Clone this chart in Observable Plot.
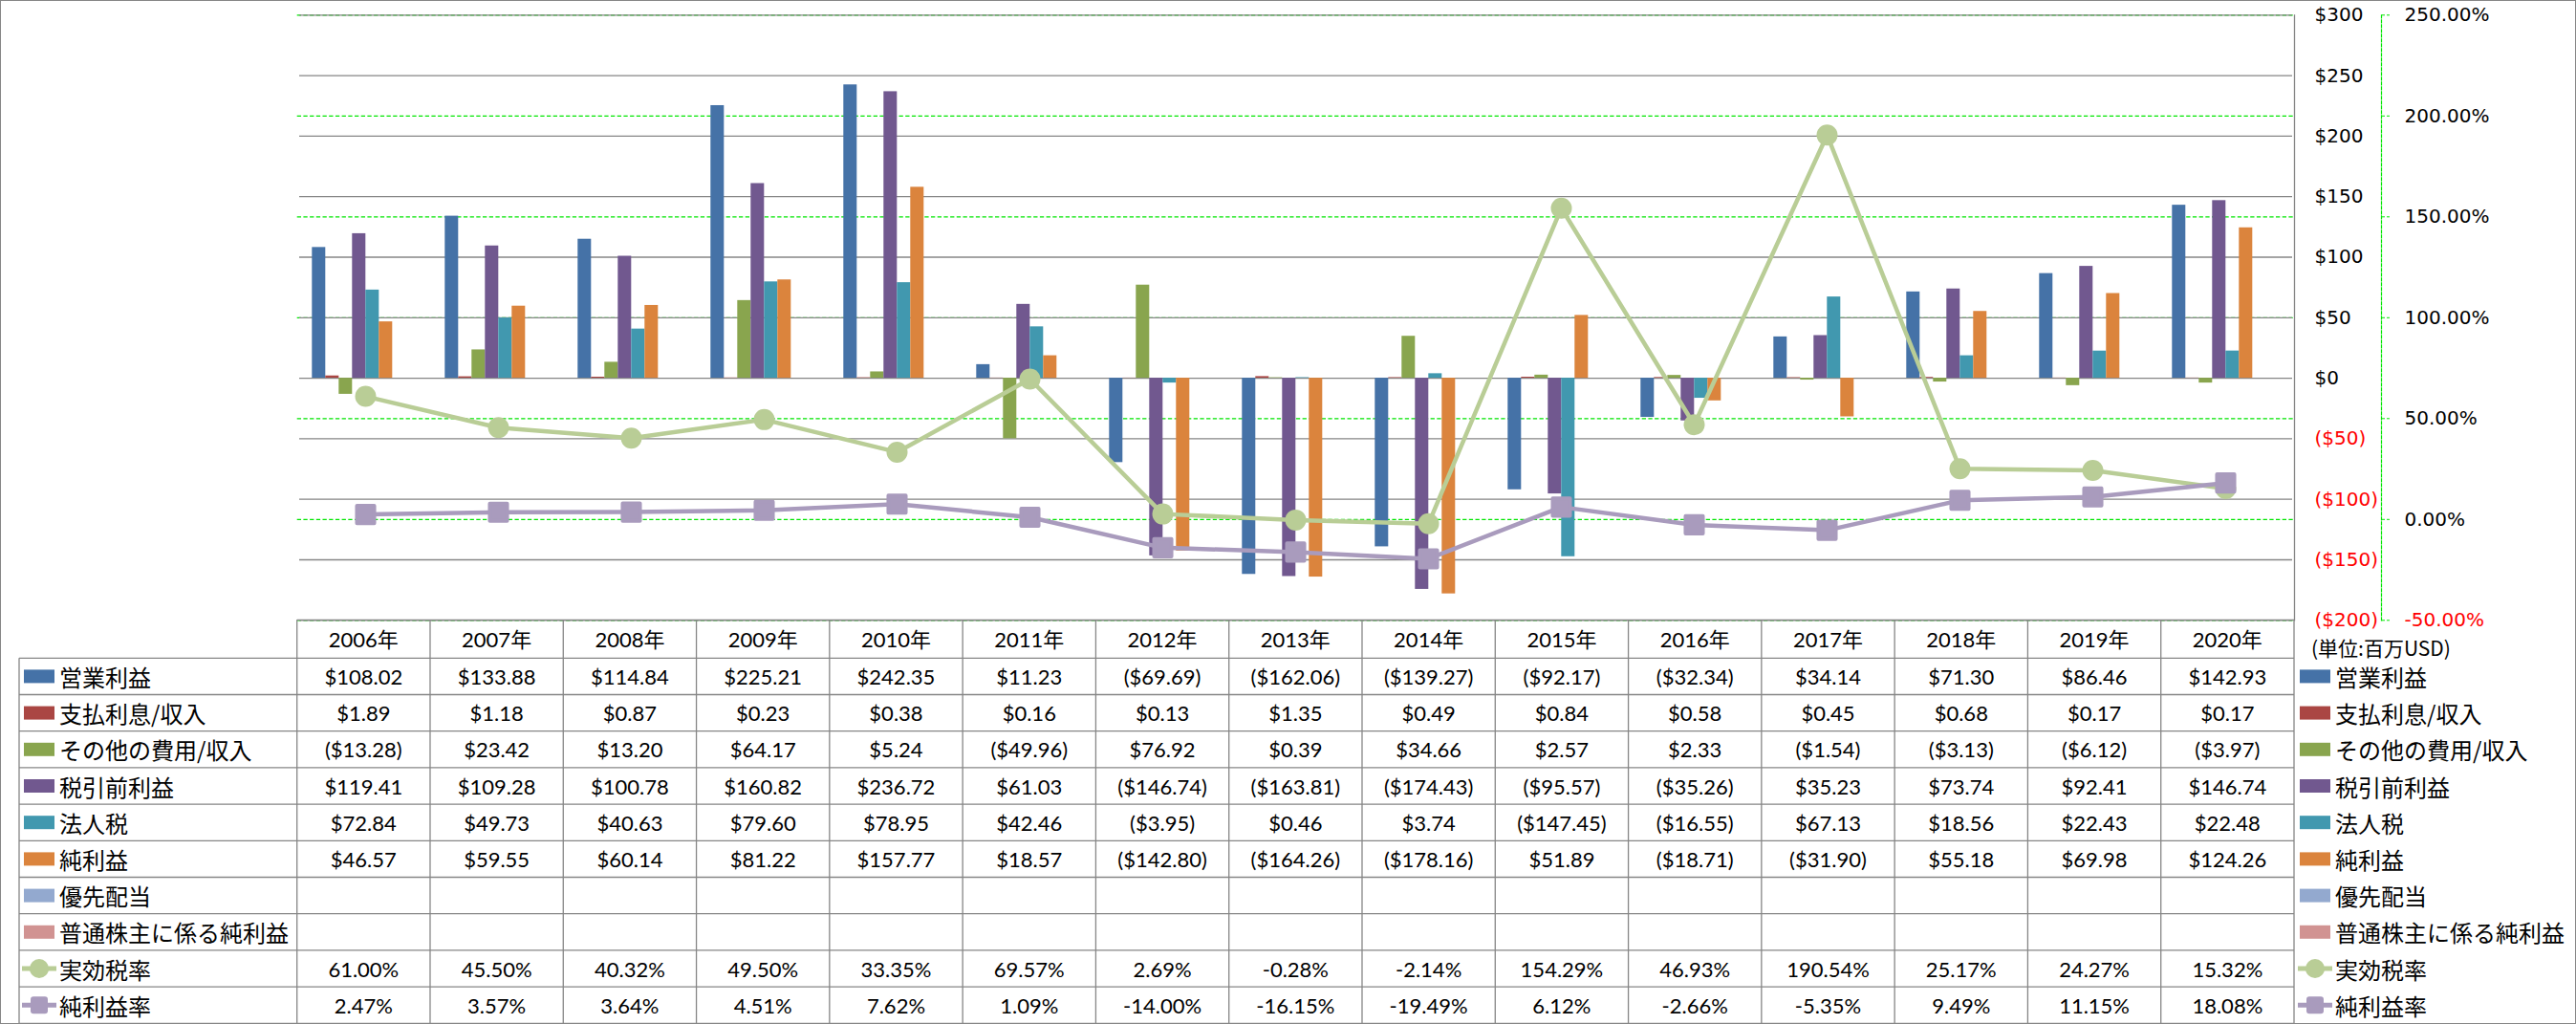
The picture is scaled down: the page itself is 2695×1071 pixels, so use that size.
<!DOCTYPE html>
<html>
<head>
<meta charset="utf-8">
<script src="https://cdn.jsdelivr.net/npm/d3@7"></script>
<script src="https://cdn.jsdelivr.net/npm/@observablehq/plot@0.6"></script>
<style>
html, body { margin: 0; padding: 0; background: #fff; }
#wrap { position: relative; width: 2695px; height: 1071px; overflow: hidden; background: #fff; }
#frameBorder { position: absolute; left: 0; top: 0; width: 2695px; height: 1071px; box-sizing: border-box; border: 1.5px solid #868686; pointer-events: none; }
</style>
</head>
<body>
<div id="wrap"></div>
<script>
// ---------------- data ----------------
const years = ["2006","2007","2008","2009","2010","2011","2012","2013","2014","2015","2016","2017","2018","2019","2020"];
const seriesNames = ["営業利益","支払利息/収入","その他の費用/収入","税引前利益","法人税","純利益","優先配当","普通株主に係る純利益","実効税率","純利益率"];
const operatingIncome   = [108.02, 133.88, 114.84, 225.21, 242.35, 11.23, -69.69, -162.06, -139.27, -92.17, -32.34, 34.14, 71.30, 86.46, 142.93];
const interestExpense   = [1.89, 1.18, 0.87, 0.23, 0.38, 0.16, 0.13, 1.35, 0.49, 0.84, 0.58, 0.45, 0.68, 0.17, 0.17];
const otherExpense      = [-13.28, 23.42, 13.20, 64.17, 5.24, -49.96, 76.92, 0.39, 34.66, 2.57, 2.33, -1.54, -3.13, -6.12, -3.97];
const pretaxIncome      = [119.41, 109.28, 100.78, 160.82, 236.72, 61.03, -146.74, -163.81, -174.43, -95.57, -35.26, 35.23, 73.74, 92.41, 146.74];
const incomeTax         = [72.84, 49.73, 40.63, 79.60, 78.95, 42.46, -3.95, 0.46, 3.74, -147.45, -16.55, 67.13, 18.56, 22.43, 22.48];
const netIncome         = [46.57, 59.55, 60.14, 81.22, 157.77, 18.57, -142.80, -164.26, -178.16, 51.89, -18.71, -31.90, 55.18, 69.98, 124.26];
const preferredDividends = [];
const netIncomeToCommon  = [];
const effectiveTaxRate  = [61.00, 45.50, 40.32, 49.50, 33.35, 69.57, 2.69, -0.28, -2.14, 154.29, 46.93, 190.54, 25.17, 24.27, 15.32];
const netMargin         = [2.47, 3.57, 3.64, 4.51, 7.62, 1.09, -14.00, -16.15, -19.49, 6.12, -2.66, -5.35, 9.49, 11.15, 18.08];
const dollarTicks = [-200, -150, -100, -50, 0, 50, 100, 150, 200, 250, 300];
const pctTicks = [-50, 0, 50, 100, 150, 200, 250];
const seriesColors = ["#4572A7","#AA4643","#89A54E","#71588F","#4198AF","#DB843D","#93A9CF","#D19392","#B9CD96","#A99BBD"];
const unitLabel = "(単位:百万USD)";

// ---------------- layout ----------------
const W = 2695, H = 1071;
const ML = 310.7, MR = 295, MT = 15.3, PB = 648.3, PH = 650;
const PCT_AXIS_X = 2491;
const HEADER_H = 40, ROW_H = 38.2;
const TABLE_LEFT = 20;
const GRID = "#868686";
const GREEN = "#00e600";

const barSeries = seriesNames.slice(0, 8);
const barValues = [operatingIncome, interestExpense, otherExpense, pretaxIncome, incomeTax, netIncome, preferredDividends, netIncomeToCommon];
const barData = [];
barValues.forEach((arr, s) => years.forEach((y, i) => {
  const v = arr[i];
  if (v != null) barData.push({year: y, series: barSeries[s], value: v});
}));
const lineData = years.map((y, i) => ({year: y, tax: effectiveTaxRate[i], margin: netMargin[i]}));

const fmtDollar = v => v < 0 ? `($${(-v).toFixed(2)})` : `$${v.toFixed(2)}`;
const fmtAxisDollar = v => v < 0 ? `($${-v})` : `$${v}`;
const fmtPct = v => `${v.toFixed(2)}%`;

const layerStyle = {
  position: "absolute", left: "0px", top: "0px",
  background: "transparent", overflow: "visible",
  fontFamily: "'DejaVu Sans', sans-serif", fontSize: "20px", color: "#000"
};
const common = {width: W, height: PH, marginLeft: ML, marginRight: MR, marginTop: MT, marginBottom: PH - PB, style: layerStyle};
const wrap = document.getElementById("wrap");

// Layer 1: percentage gridlines (green dashed) + plot right border
const layer1 = Plot.plot({
  ...common,
  y: {domain: [-50, 250], axis: null},
  marks: [
    Plot.ruleY(pctTicks, {stroke: GREEN, strokeWidth: 1.3, strokeDasharray: "4.3,2.4"}),
    Plot.frame({anchor: "right", stroke: GRID, strokeWidth: 1.3})
  ]
});
wrap.appendChild(layer1);

// Layer 2: dollar gridlines, grouped bars, dollar axis
const layer2 = Plot.plot({
  ...common,
  fx: {domain: years, padding: 0, axis: null},
  x: {domain: barSeries, paddingInner: 0, paddingOuter: 0.7, axis: null},
  y: {domain: [-200, 300], axis: null},
  color: {domain: seriesNames, range: seriesColors},
  marks: [
    Plot.ruleY(dollarTicks, {stroke: GRID, strokeWidth: 1.3}),
    Plot.barY(barData, {fx: "year", x: "series", y1: 0, y2: "value", fill: "series", insetLeft: 0, insetRight: 0}),
    Plot.axisY({ticks: dollarTicks.filter(d => d >= 0), anchor: "right", label: null, tickSize: 0, tickPadding: 23, tickFormat: fmtAxisDollar, fill: "#000"}),
    Plot.axisY({ticks: dollarTicks.filter(d => d < 0), anchor: "right", label: null, tickSize: 0, tickPadding: 23, tickFormat: fmtAxisDollar, fill: "#ff0000"})
  ]
});
wrap.appendChild(layer2);

// Layer 3: rate lines with markers
const layer3 = Plot.plot({
  ...common,
  x: {type: "point", domain: years, padding: 0.5, axis: null},
  y: {domain: [-50, 250], axis: null},
  marks: [
    Plot.line(lineData, {x: "year", y: "tax", stroke: seriesColors[8], strokeWidth: 4.5}),
    Plot.dot(lineData, {x: "year", y: "tax", r: 11, fill: seriesColors[8], symbol: "circle"}),
    Plot.line(lineData, {x: "year", y: "margin", stroke: seriesColors[9], strokeWidth: 4.5}),
    Plot.dot(lineData, {x: "year", y: "margin", r: 10.2, symbol: "square", fill: seriesColors[9], stroke: seriesColors[9], strokeWidth: 4, strokeLinejoin: "round"})
  ]
});
wrap.appendChild(layer3);

// Layer 4: percentage axis
const layer4 = Plot.plot({
  ...common,
  marginRight: W - PCT_AXIS_X,
  y: {domain: [-50, 250], axis: null},
  marks: [
    Plot.frame({anchor: "right", stroke: GREEN, strokeWidth: 1.2, strokeDasharray: "3,2"}),
    Plot.axisY({ticks: pctTicks.filter(d => d >= 0), anchor: "right", label: null, tickSize: 9, tickPadding: 15, tickFormat: fmtPct, stroke: GREEN, strokeDasharray: "3,2", fill: "#000"}),
    Plot.axisY({ticks: pctTicks.filter(d => d < 0), anchor: "right", label: null, tickSize: 9, tickPadding: 15, tickFormat: fmtPct, stroke: GREEN, strokeDasharray: "3,2", fill: "#ff0000"})
  ]
});
wrap.appendChild(layer4);

// ---------------- data table + legend ----------------
const col = d3.scaleBand(years, [ML, W - MR]);
const bw = col.bandwidth();
const tableTop = PB;
const rowsTop = tableTop + HEADER_H;
const rowY = i => rowsTop + ROW_H * i;
const tableBottom = rowY(seriesNames.length);
const tableRight = W - MR;

const tsvg = d3.create("svg")
  .attr("width", W).attr("height", H)
  .style("position", "absolute").style("left", "0px").style("top", "0px")
  .style("overflow", "visible");

const lines = tsvg.append("g").attr("stroke", GRID).attr("stroke-width", 1.3).attr("fill", "none");
lines.append("line").attr("x1", ML).attr("x2", tableRight).attr("y1", tableTop).attr("y2", tableTop);
for (let k = 0; k <= seriesNames.length; k++) {
  lines.append("line").attr("x1", TABLE_LEFT).attr("x2", tableRight).attr("y1", rowY(k)).attr("y2", rowY(k));
}
lines.append("line").attr("x1", TABLE_LEFT).attr("x2", TABLE_LEFT).attr("y1", rowsTop).attr("y2", tableBottom);
years.forEach(y => {
  lines.append("line").attr("x1", col(y)).attr("x2", col(y)).attr("y1", tableTop).attr("y2", tableBottom);
});
lines.append("line").attr("x1", tableRight).attr("x2", tableRight).attr("y1", tableTop).attr("y2", tableBottom);

const valueFont = "Lato, 'Noto Sans CJK JP', sans-serif";
const labelFont = "'Noto Sans CJK JP', sans-serif";

// header years
tsvg.append("g").selectAll("text").data(years).join("text")
  .attr("x", d => col(d) + bw / 2).attr("y", tableTop + HEADER_H / 2)
  .attr("text-anchor", "middle").attr("dominant-baseline", "central")
  .attr("font-family", valueFont).attr("font-size", 22).attr("fill", "#000")
  .text(d => `${d}年`);

// values
const allValues = [...barValues, effectiveTaxRate, netMargin];
allValues.forEach((arr, s) => {
  const isPct = s >= 8;
  years.forEach((y, i) => {
    const v = arr[i];
    if (v == null) return;
    tsvg.append("text")
      .attr("x", col(y) + bw / 2).attr("y", rowY(s) + ROW_H / 2)
      .attr("text-anchor", "middle").attr("dominant-baseline", "central")
      .attr("font-family", valueFont).attr("font-size", 22).attr("fill", "#000")
      .text(isPct ? fmtPct(v) : fmtDollar(v));
  });
});

// key + label
function drawKey(g, s, x0, cy) {
  const c = seriesColors[s];
  if (s < 8) {
    g.append("rect").attr("x", x0).attr("y", cy - 7).attr("width", 32).attr("height", 14).attr("fill", c);
  } else {
    g.append("line").attr("x1", x0 - 2).attr("x2", x0 + 34).attr("y1", cy).attr("y2", cy)
      .attr("stroke", c).attr("stroke-width", 5);
    if (s === 8) {
      g.append("circle").attr("cx", x0 + 16).attr("cy", cy).attr("r", 10).attr("fill", c);
    } else {
      g.append("rect").attr("x", x0 + 7).attr("y", cy - 9).attr("width", 18).attr("height", 18)
        .attr("rx", 3).attr("fill", c);
    }
  }
}
const keys = tsvg.append("g");
seriesNames.forEach((name, s) => {
  const cy = rowY(s) + ROW_H / 2;
  drawKey(keys, s, 25, cy);
  keys.append("text").attr("x", 62).attr("y", cy).attr("dominant-baseline", "central")
    .attr("font-family", labelFont).attr("font-size", 24).attr("fill", "#000").text(name);
  drawKey(keys, s, 2406, cy);
  keys.append("text").attr("x", 2443).attr("y", cy).attr("dominant-baseline", "central")
    .attr("font-family", labelFont).attr("font-size", 24).attr("fill", "#000").text(name);
});

// unit label
tsvg.append("text").attr("x", 2418).attr("y", 677).attr("dominant-baseline", "central")
  .attr("font-family", labelFont).attr("font-size", 21).attr("fill", "#000").text(unitLabel);

wrap.appendChild(tsvg.node());

const border = document.createElement("div");
border.id = "frameBorder";
wrap.appendChild(border);
</script>
</body>
</html>
